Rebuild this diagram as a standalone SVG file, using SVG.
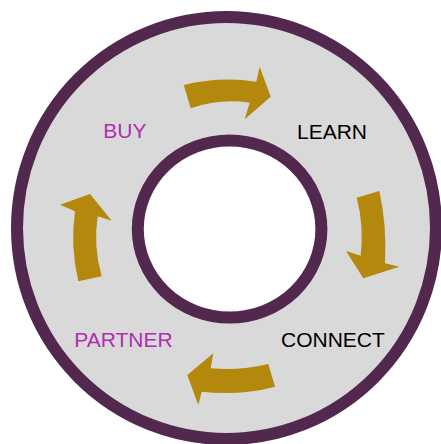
<svg xmlns="http://www.w3.org/2000/svg" width="441" height="444" viewBox="0 0 441 444">
<style>
.ring{stroke:#53284f;stroke-width:12}
.arrow{fill:#b3880d}
.lbl{font-family:"Liberation Sans",Arial,sans-serif;font-size:21px}
.mag{fill:#b02fb0}
.blk{fill:#000}
</style>
<rect width="441" height="444" fill="#fff"/>
<g id="outer-ring"><ellipse class="ring" cx="226.5" cy="228" rx="209.5" ry="211" fill="#d9d9d9"/></g>
<g id="inner-ring"><ellipse class="ring" cx="229.6" cy="229" rx="91.8" ry="88.5" fill="#fff"/></g>
<g id="connectors">
<path class="arrow" d="M183.7,85 Q220,76 256.3,81.7 L259.7,66.7 L270.7,96.7 L244.7,119.3 L249.7,102.7 Q220,98 190.7,108.3 Z"/>
<path class="arrow" d="M379.3,191 Q387,225 385,263.3 L399.3,266.7 L363.3,278.3 L346,251 L360.7,255.7 Q364,225 356.7,197.7 Z"/>
<path class="arrow" d="M275,386.7 Q240,396 201.7,391.7 L198.3,405 L187.3,375 L213.3,353.3 L210.7,368.3 Q240,371 268.3,364 Z"/>
<path class="arrow" d="M78.3,281.3 Q70,246 75,211.3 L60,204.7 L90,194 L111.7,220.7 L97.7,216.3 Q93,246 101.7,276.3 Z"/>
</g>
<g id="buy"><text class="lbl mag" x="103.3" y="137.5">BUY</text></g>
<g id="learn"><text class="lbl blk" x="297" y="138.5">LEARN</text></g>
<g id="partner"><text class="lbl mag" x="74.3" y="346.5">PARTNER</text></g>
<g id="connect"><text class="lbl blk" x="281" y="346.5">CONNECT</text></g>
</svg>
